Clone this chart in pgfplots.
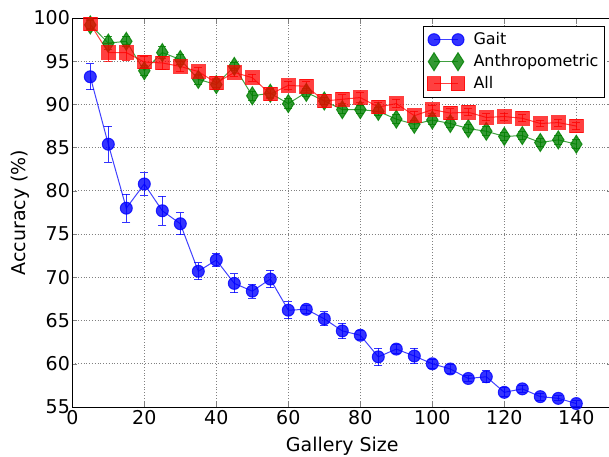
\documentclass[border=0pt]{standalone}
\usepackage{pgfplots}
\usepackage{pgfplotstable}
\pgfplotsset{compat=1.18}
\usepackage{fontspec}
\setmainfont{DejaVu Sans}

\pgfplotstableread{
x y e
5 93.2 1.5
10 85.4 2.1
15 78.0 1.6
20 80.8 1.3
25 77.7 1.7
30 76.2 1.3
35 70.7 1.0
40 72.0 0.8
45 69.3 1.1
50 68.4 0.8
55 69.8 1.0
60 66.2 1.0
65 66.3 0.5
70 65.2 0.8
75 63.8 0.9
80 63.3 0.5
85 60.8 1.0
90 61.7 0.5
95 60.9 0.9
100 60.0 0.5
105 59.4 0.5
110 58.3 0.3
115 58.5 0.7
120 56.7 0.5
125 57.1 0.4
130 56.2 0.4
135 56.0 0.3
140 55.4 0.3
}\gait

\pgfplotstableread{
x y e
5 99.2 0.5
10 97.1 0.8
15 97.3 0.6
20 93.9 0.6
25 96.0 0.7
30 95.2 0.6
35 92.9 0.6
40 92.3 0.6
45 94.4 0.5
50 91.0 0.5
55 91.3 0.5
60 90.1 0.6
65 91.4 0.5
70 90.4 0.4
75 89.4 0.5
80 89.4 0.5
85 89.2 0.5
90 88.3 0.5
95 87.7 0.5
100 88.2 0.5
105 87.8 0.5
110 87.2 0.5
115 86.9 0.5
120 86.3 0.5
125 86.4 0.5
130 85.6 0.5
135 85.9 0.5
140 85.4 0.5
}\anthro

\pgfplotstableread{
x y e
5 99.3 0.5
10 96.0 1.0
15 96.0 0.9
20 94.9 0.6
25 94.8 0.7
30 94.4 0.6
35 93.8 0.5
40 92.5 0.5
45 93.7 0.5
50 93.1 0.4
55 91.2 0.5
60 92.2 0.5
65 92.1 0.5
70 90.4 0.4
75 90.6 0.5
80 90.8 0.6
85 89.7 0.5
90 90.1 0.5
95 88.7 0.5
100 89.4 0.5
105 89.0 0.5
110 89.1 0.4
115 88.5 0.4
120 88.6 0.4
125 88.4 0.4
130 87.8 0.4
135 87.9 0.4
140 87.5 0.4
}\allt

\definecolor{mplgreen}{rgb}{0,0.5,0}

\begin{document}
\begin{tikzpicture}
\begin{axis}[
  scale only axis,
  width=270pt, height=194.5pt,
  xmin=0, xmax=150, ymin=55, ymax=100,
  xtick={0,20,...,140}, ytick={55,60,...,100},
  tick align=inside,
  major tick length=2.5pt,
  axis line style={line width=0.5pt},
  grid=major,
  grid style={densely dotted, gray, line width=0.4pt},
  xlabel={Gallery Size}, ylabel={Accuracy (\%)},
  /pgf/number format/assume math mode=true,
  tick label style={font=\fontsize{9.5}{11}\selectfont},
  xticklabel style={inner sep=1.5pt},
  yticklabel style={inner sep=1pt},
  label style={font=\fontsize{9.5}{11}\selectfont, inner sep=0pt},
  xlabel style={at={(axis description cs:0.5,0)}, anchor=north, yshift=-15pt},
  ylabel style={at={(axis description cs:0,0.5)}, anchor=south, yshift=21pt},
  legend style={at={(1,1)}, anchor=north east, xshift=-3.65pt, yshift=-3.85pt,
    font=\fontsize{8}{9.6}\selectfont, draw=black, line width=0.5pt,
    row sep=1.5pt, inner sep=2pt,
    nodes={inner sep=1pt, text height=6pt, text depth=1.5pt}},
  legend cell align=left,
  legend image code/.code={\draw[#1] plot coordinates {(0pt,0pt) (12pt,0pt)};
    \path (18.5pt,0pt);},
  error bars/y dir=both, error bars/y explicit,
  error bars/error mark options={rotate=90, mark size=2pt, line width=0.5pt},
]
\addplot[color=blue, line width=0.5pt, draw opacity=0.75,
  mark=*, mark size=3pt, mark options={fill=blue, draw=blue, fill opacity=0.8, draw opacity=0.8},
  error bars/error bar style={blue, line width=0.5pt, opacity=0.8}]
  table[x=x, y=y, y error=e] {\gait};
\addlegendentry{Gait}
\addplot[color=mplgreen, line width=0.5pt, draw opacity=0.75,
  mark=diamond*, mark size=4.5pt, mark options={xscale=0.85, fill=mplgreen, draw=mplgreen, fill opacity=0.8, draw opacity=0.8},
  error bars/error bar style={mplgreen, line width=0.5pt, opacity=0.8}]
  table[x=x, y=y, y error=e] {\anthro};
\addlegendentry{Anthropometric}
\addplot[color=red, line width=0.5pt, draw opacity=0.75,
  mark=square*, mark size=3.4pt, mark options={fill=red, draw=red, fill opacity=0.75, draw opacity=0.75},
  error bars/error bar style={red, line width=0.5pt, opacity=0.8}]
  table[x=x, y=y, y error=e] {\allt};
\addlegendentry{All}
\end{axis}
\pgfresetboundingbox
\path[use as bounding box] ([xshift=-36.15pt,yshift=-24.65pt]current axis.south west) rectangle ([xshift=-1.65pt,yshift=9pt]current axis.north east);
\end{tikzpicture}
\end{document}
